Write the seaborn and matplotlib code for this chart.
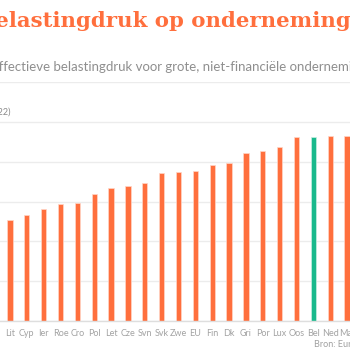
import matplotlib
matplotlib.use("Agg")
import matplotlib.pyplot as plt
import seaborn as sns
import pandas as pd

# Effective tax rate of large non-financial companies, per country (%)
landen = ["Lit", "Cyp", "Ier", "Roe", "Cro", "Pol", "Let", "Cze", "Svn", "Svk",
          "Zwe", "EU", "Fin", "Dk", "Gri", "Por", "Lux", "Oos", "Bel", "Ned", "Mal"]
druk = [12.7, 13.3, 14.1, 14.7, 14.8, 15.9, 16.7, 17.0, 17.3, 18.6,
        18.7, 18.8, 19.6, 19.8, 21.1, 21.4, 21.8, 23.1, 23.1, 23.2, 23.2]
y_ticks = [0, 5, 10, 15, 20, 25, 30]

ORANJE = "#ff6f3d"
GROEN = "#19b98c"
kleuren = {l: (GROEN if l == "Bel" else ORANJE) for l in landen}

df = pd.DataFrame({"land": landen, "druk": druk})

sns.set_theme(style="white")
plt.rcParams["font.family"] = ["Lato", "DejaVu Sans"]

W = H = 350
fig = plt.figure(figsize=(3.5, 3.5), dpi=100)
renderer = fig.canvas.get_renderer()

# axes geometry in pixels: category i centred at 10 + 16.85*i, baseline 321 px from top
step = 16.85
x0 = 10
xlim = (-1.5, len(landen) + 0.5)
left_px = x0 + step * xlim[0]
right_px = x0 + step * xlim[1]
base_px = H - 321
top_px = H - 82
ax = fig.add_axes([left_px / W, base_px / H, (right_px - left_px) / W, (top_px - base_px) / H])

sns.barplot(data=df, x="land", y="druk", hue="land", palette=kleuren, legend=False,
            width=0.31, edgecolor="#ffd6c8", linewidth=0.5, ax=ax, saturation=1)
for p, l in zip(ax.patches, landen):
    if l == "Bel":
        p.set_edgecolor("#c8efe2")

ax.set_xlim(*xlim)
ax.set_ylim(0, 30)
ax.set_yticks(y_ticks)
ax.set_yticklabels([])
ax.yaxis.grid(True, color="#ececec", linewidth=1)
ax.set_axisbelow(True)
for s in ["top", "right", "left"]:
    ax.spines[s].set_visible(False)
ax.spines["bottom"].set_color("#dedede")
ax.spines["bottom"].set_linewidth(1)
ax.set_xlabel("")
ax.set_ylabel("")
ax.tick_params(axis="x", length=0, pad=6, labelsize=6.5, labelcolor="#a3a3a3")
ax.tick_params(axis="y", length=0)


def text_width(s, **kw):
    t = fig.text(0, 0, s, **kw)
    w = t.get_window_extent(renderer).width
    t.remove()
    return w


# titles and notes
titel_kw = dict(family=["DejaVu Serif"], fontweight="bold", fontsize=15.3, color=ORANJE)
titel_x = -5 - text_width("De b", **titel_kw)
fig.text(titel_x / W, 1 - 27 / H, "De belastingdruk op ondernemingen",
         ha="left", va="baseline", **titel_kw)

sub_kw = dict(fontsize=9.5, color="#8f8f8f")
sub_x = -1 - text_width("E", **sub_kw)
fig.text(sub_x / W, 1 - 71 / H,
         "Effectieve belastingdruk voor grote, niet-financiële ondernemingen",
         ha="left", va="baseline", **sub_kw)
fig.text(11 / W, 1 - 115 / H, "(in %, 2022)", fontsize=6.5, color="#8a8a8a",
         ha="right", va="baseline")
fig.text(314 / W, 1 - 347 / H, "Bron: Europese Commissie", fontsize=6.5,
         color="#a0a0a0", ha="left", va="baseline")

fig.savefig("out.png", dpi=100, facecolor="white")
